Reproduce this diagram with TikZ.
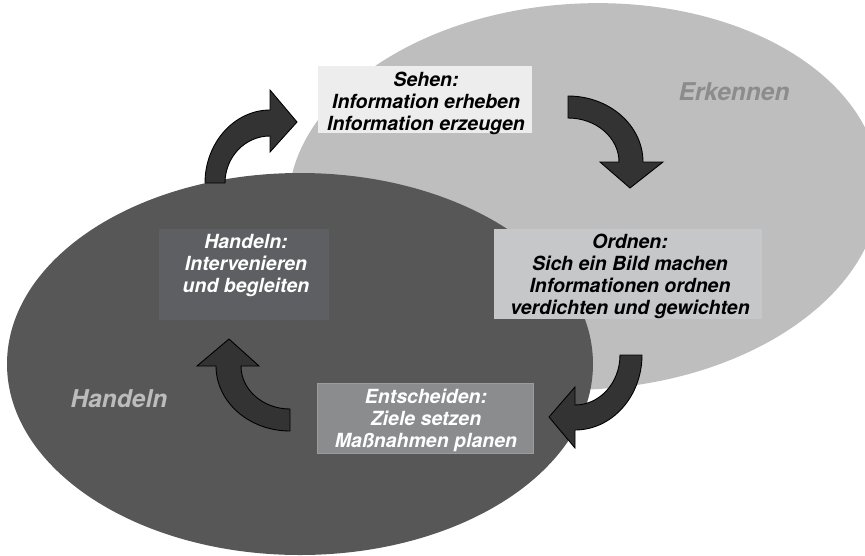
\documentclass[tikz,border=0pt]{standalone}
\usepackage{fontspec}
\setmainfont{TeX Gyre Heros}
\definecolor{ellLight}{HTML}{BEBEBE}
\definecolor{ellDark}{HTML}{575757}
\definecolor{arrowFill}{HTML}{333333}
\definecolor{boxSehen}{HTML}{EDEDED}
\definecolor{boxOrdnen}{HTML}{C6C7C9}
\definecolor{boxHandeln}{HTML}{5E5F62}
\definecolor{boxEnt}{HTML}{8B8C8E}
\definecolor{boxEntLine}{HTML}{9C9C9E}
\definecolor{lblErk}{HTML}{8C8C8C}
\definecolor{lblHand}{HTML}{BCBCBC}
\begin{document}
\begin{tikzpicture}[x=1pt,y=-1pt,
  cyclearrow/.style={fill=arrowFill, draw=black, line width=0.9pt, line join=miter},
  stagebox/.style={draw=none, inner sep=0pt, rectangle},
  stagetext/.style={font=\fontsize{19.5}{22}\selectfont\bfseries\itshape, align=center, inner sep=0pt, anchor=north},
  biglabel/.style={font=\fontsize{24.5}{28}\selectfont\bfseries\itshape, inner sep=0pt, anchor=base}]
\useasboundingbox (0,0) rectangle (865,555);

% ellipses
\fill[ellLight, rotate around={3:(584,196.5)}] (584,196.5) ellipse [x radius=296, y radius=193];
\fill[ellDark] (300,364) ellipse [x radius=293, y radius=191];

% labels of the ellipses
\node[biglabel, text=lblErk] (erkennen) at (734,100) {Erkennen};
\node[biglabel, text=lblHand] (handelnlbl) at (119,407) {Handeln};

% boxes
\node[stagebox, fill=boxSehen, minimum width=214pt, minimum height=67pt] (sehenbox) at (425,99.5) {};
\node[stagetext, text=black] (sehentxt) at (426,72) {Sehen:\\Information erheben\\Information erzeugen};

\node[stagebox, fill=boxOrdnen, minimum width=268pt, minimum height=90pt] (ordnenbox) at (628,274) {};
\node[stagetext, text=black] (ordnentxt) at (630,234) {Ordnen:\\Sich ein Bild machen\\Informationen ordnen\\verdichten und gewichten};

\node[stagebox, fill=boxHandeln, minimum width=170pt, minimum height=91pt] (handelnbox) at (244,274.5) {};
\node[stagetext, text=white] (handelntxt) at (246,234) {Handeln:\\Intervenieren\\und begleiten};

\node[stagebox, fill=boxEnt, draw=boxEntLine, line width=0.8pt, minimum width=216pt, minimum height=70pt] (entbox) at (425.5,418) {};
\node[stagetext, text=white] (enttxt) at (426,389) {Entscheiden:\\Ziele setzen\\Maßnahmen planen};

% curved block arrows
\path[cyclearrow] (205,183) .. controls (205,142.7) and (234.5,110) .. (270,110)
  -- (270,90) -- (297,122) -- (270,152) -- (270,136)
  .. controls (245.1,136) and (225,157) .. (225,183) -- cycle;

\path[cyclearrow] (568,96) .. controls (609.4,96) and (643,125.5) .. (643,162)
  -- (663,162) -- (630,188) -- (600,162) -- (619,162)
  .. controls (619,137.7) and (596.2,118) .. (568,118) -- cycle;

\path[cyclearrow] (642,355) .. controls (642,396.4) and (612,430) .. (575,430)
  -- (575,448) -- (549,417) -- (575,387) -- (575,405)
  .. controls (599.9,405) and (620,382.6) .. (620,355) -- cycle;

\path[cyclearrow] (290,431) .. controls (249.1,431) and (216,401.9) .. (216,366)
  -- (197,366) -- (229,339) -- (259,366) -- (241,366)
  .. controls (241,389.7) and (262.9,409) .. (290,409) -- cycle;
\end{tikzpicture}
\end{document}
